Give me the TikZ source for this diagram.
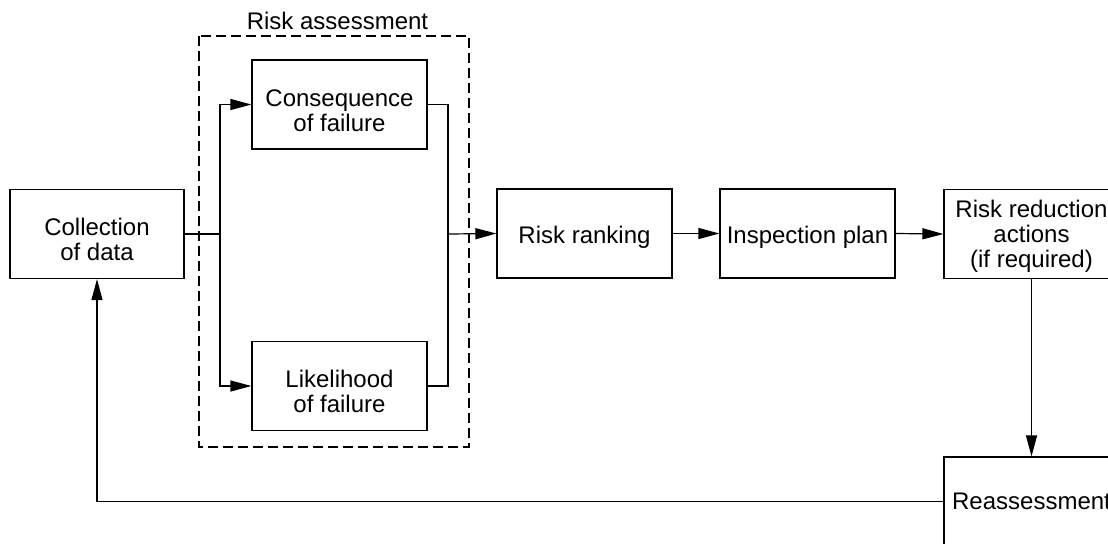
\documentclass[tikz,border=0pt]{standalone}
\usepackage{fontspec}
\setmainfont{Liberation Sans}
\usetikzlibrary{arrows.meta}
% invisible strut that pushes a node's text down inside its frame
\newcommand{\lift}[1]{\rule{0pt}{#1}}

\begin{document}
\begin{tikzpicture}[x=0.5pt,y=-0.5pt,
  every node/.style={font=\fontsize{12}{12.5}\selectfont},
  block/.style={draw, line width=0.6pt, minimum width=87.5pt, minimum height=44.5pt,
                align=center, inner sep=0pt},
  wire/.style={line width=0.6pt},
  flow/.style={wire, -{Triangle[length=10.5pt,width=5.5pt]}},
  groupframe/.style={draw, line width=0.6pt, dash pattern=on 5pt off 2.5pt}]

  \clip (0,0) rectangle (1108,543);
  \fill[white] (0,0) rectangle (1108,543);

  % dashed frame around the risk assessment stage
  \draw[groupframe] (199,36) rectangle (469,447);
  \node[anchor=base] (title) at (337.5,29) {Risk assessment};

  % process blocks
  \node[block, minimum width=87pt] (coll) at (97,234)   {\lift{14.2pt}Collection\\of data};
  \node[block] (cons) at (339.5,104.5) {\lift{14.2pt}Consequence\\of failure};
  \node[block] (lik)  at (339.5,386)   {\lift{14.2pt}Likelihood\\of failure};
  \node[block] (rank) at (584.5,233.5) {\lift{12.3pt}Risk ranking};
  \node[block] (insp) at (807.5,233.5) {\lift{12.3pt}Inspection plan};
  \node[block] (red)  at (1031.5,234)  {\lift{11pt}Risk reduction\\actions\\(if required)};
  \node[block] (reas) at (1031.5,501.5) {Reassessment};

  % branch and join points
  \coordinate (split) at (220,234);
  \coordinate (merge) at (448,234);

  % connectors
  \draw[wire] (coll.east) -- (split);
  \draw[flow] (split) |- (cons.west);
  \draw[flow] (split) |- (lik.west);
  \draw[wire] (cons.east) -| (merge);
  \draw[wire] (lik.east) -| (merge);
  \draw[flow] (merge) -- (rank.west);
  \draw[flow] (rank.east) -- (insp.west);
  \draw[flow] (insp.east) -- (red.west);
  \draw[flow] (red.south) -- (reas.north);
  \draw[flow] (reas.west) -| (coll.south);
\end{tikzpicture}
\end{document}
